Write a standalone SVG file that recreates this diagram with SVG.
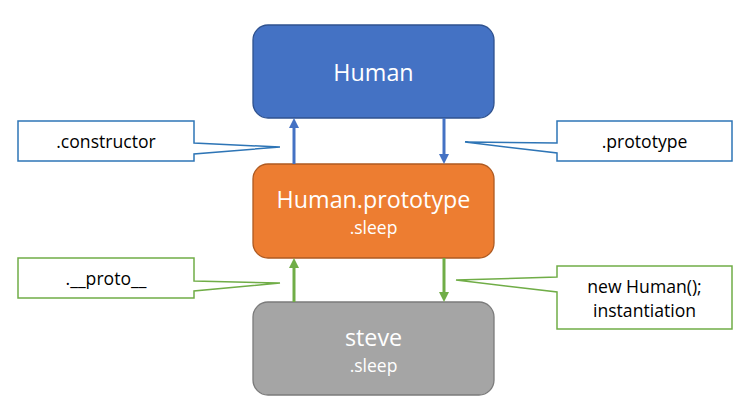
<svg xmlns="http://www.w3.org/2000/svg" width="750" height="411" viewBox="0 0 750 411">
<defs>
<style>
.node{stroke-width:1.3}
.title{font-family:"Open Sans","Noto Sans",sans-serif;font-size:23.3px;fill:#ffffff;text-anchor:middle}
.sub{font-family:"Open Sans","Noto Sans",sans-serif;font-size:17.5px;fill:#ffffff;text-anchor:middle}
.lbl{font-family:"Open Sans","Noto Sans",sans-serif;font-size:17.6px;fill:#000000;text-anchor:middle}
.callout-b{fill:#ffffff;stroke:#2E75B6;stroke-width:1.5}
.callout-g{fill:#ffffff;stroke:#70AD47;stroke-width:1.5}
.arr-b{stroke:#4472C4;stroke-width:3;fill:none}
.arr-g{stroke:#70AD47;stroke-width:3;fill:none}
</style>
<marker id="ab" markerUnits="userSpaceOnUse" markerWidth="10" markerHeight="10" refX="0" refY="5" orient="auto" viewBox="0 0 10 10">
<path d="M0,0 L10,5 L0,10 Z" fill="#4472C4"/>
</marker>
<marker id="ag" markerUnits="userSpaceOnUse" markerWidth="10" markerHeight="10" refX="0" refY="5" orient="auto" viewBox="0 0 10 10">
<path d="M0,0 L10,5 L0,10 Z" fill="#70AD47"/>
</marker>
</defs>
<rect width="750" height="411" fill="#ffffff"/>

<g id="human">
<rect class="node" x="253" y="25" width="241" height="93" rx="15" fill="#4472C4" stroke="#2F528F"/>
<text class="title" x="373.5" y="81">Human</text>
</g>

<g id="human-prototype">
<rect class="node" x="253" y="164" width="241" height="94" rx="15" fill="#ED7D31" stroke="#AE5A21"/>
<text class="title" x="373.5" y="208">Human.prototype</text>
<text class="sub" x="373.5" y="234">.sleep</text>
</g>

<g id="steve">
<rect class="node" x="253" y="302" width="241" height="93" rx="15" fill="#A5A5A5" stroke="#7B7B7B"/>
<text class="title" x="373.5" y="346">steve</text>
<text class="sub" x="373.5" y="372">.sleep</text>
</g>

<g id="connectors">
<line class="arr-b" x1="294" y1="164" x2="294" y2="128" marker-end="url(#ab)"/>
<line class="arr-b" x1="444" y1="118" x2="444" y2="154" marker-end="url(#ab)"/>
<line class="arr-g" x1="294" y1="302" x2="294" y2="268" marker-end="url(#ag)"/>
<line class="arr-g" x1="444" y1="258" x2="444" y2="292" marker-end="url(#ag)"/>
</g>

<g id="callout-constructor">
<path class="callout-b" d="M18,121 H194 V143 L280,147 L194,154 V161 H18 Z"/>
<text class="lbl" x="106" y="148">.constructor</text>
</g>

<g id="callout-prototype">
<path class="callout-b" d="M557,121 H732 V161 H557 V153 L465,142 L557,143 Z"/>
<text class="lbl" x="644.5" y="148">.prototype</text>
</g>

<g id="callout-proto">
<path class="callout-g" d="M18,258 H194 V281 L280,283 L194,291 V298 H18 Z"/>
<text class="lbl" x="106" y="285">.__proto__</text>
</g>

<g id="callout-new">
<path class="callout-g" d="M557,266 H732 V329 H557 V292 L456,280 L557,277 Z"/>
<text class="lbl" x="644.5" y="293">new Human();</text>
<text class="lbl" x="644.5" y="317">instantiation</text>
</g>
</svg>
